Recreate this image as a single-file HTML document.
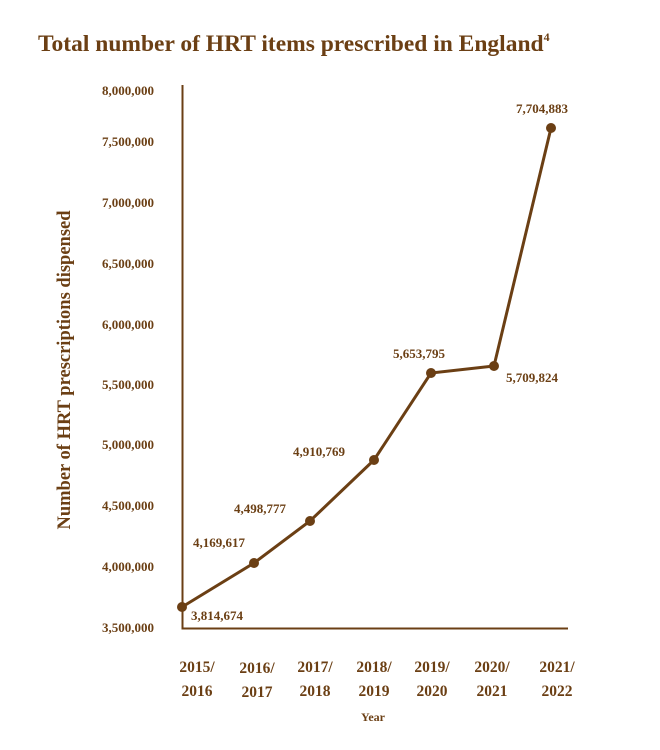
<!DOCTYPE html>
<html><head><style>
body{margin:0;background:#fff;}
svg{display:block;font-family:"Liberation Serif",serif;fill:#6b3f14;}
</style></head><body>
<svg width="660" height="750" viewBox="0 0 660 750">
<text x="38" y="51" font-size="23.5" font-weight="bold" letter-spacing="0">Total number of HRT items prescribed in England<tspan font-size="12" dy="-10">4</tspan></text>
<g font-size="13" font-weight="bold" text-anchor="end">
<text x="154" y="95">8,000,000</text>
<text x="154" y="146">7,500,000</text>
<text x="154" y="207">7,000,000</text>
<text x="154" y="268">6,500,000</text>
<text x="154" y="329">6,000,000</text>
<text x="154" y="389">5,500,000</text>
<text x="154" y="449">5,000,000</text>
<text x="154" y="510">4,500,000</text>
<text x="154" y="571">4,000,000</text>
<text x="154" y="632">3,500,000</text>
</g>
<text transform="translate(70,370) rotate(-90)" font-size="18.5" font-weight="bold" text-anchor="middle">Number of HRT prescriptions dispensed</text>
<path d="M182.5 85 V628.5 H568" stroke="#6b3f14" stroke-width="2" fill="none"/>
<polyline points="182,607 254,563 310,521 374,460 431,373 494,366 551,128" stroke="#6b3f14" stroke-width="3" fill="none"/>
<g>
<circle cx="182" cy="607" r="5"/><circle cx="254" cy="563" r="5"/><circle cx="310" cy="521" r="5"/><circle cx="374" cy="460" r="5"/><circle cx="431" cy="373" r="5"/><circle cx="494" cy="366" r="5"/><circle cx="551" cy="128" r="5"/>
</g>
<g font-size="13" font-weight="bold">
<text x="191" y="620">3,814,674</text>
<text x="193" y="547">4,169,617</text>
<text x="234" y="513">4,498,777</text>
<text x="293" y="456">4,910,769</text>
<text x="393" y="358">5,653,795</text>
<text x="506" y="382">5,709,824</text>
<text x="516" y="113">7,704,883</text>
</g>
<g font-size="15.5" font-weight="bold" text-anchor="middle">
<text x="197" y="672">2015/</text><text x="197" y="696">2016</text>
<text x="257" y="673">2016/</text><text x="257" y="697">2017</text>
<text x="315" y="672">2017/</text><text x="315" y="696">2018</text>
<text x="374" y="672">2018/</text><text x="374" y="696">2019</text>
<text x="432" y="672">2019/</text><text x="432" y="696">2020</text>
<text x="492" y="672">2020/</text><text x="492" y="696">2021</text>
<text x="557" y="672">2021/</text><text x="557" y="696">2022</text>
</g>
<text x="373" y="721" font-size="12" font-weight="bold" text-anchor="middle">Year</text>
</svg>
</body></html>
